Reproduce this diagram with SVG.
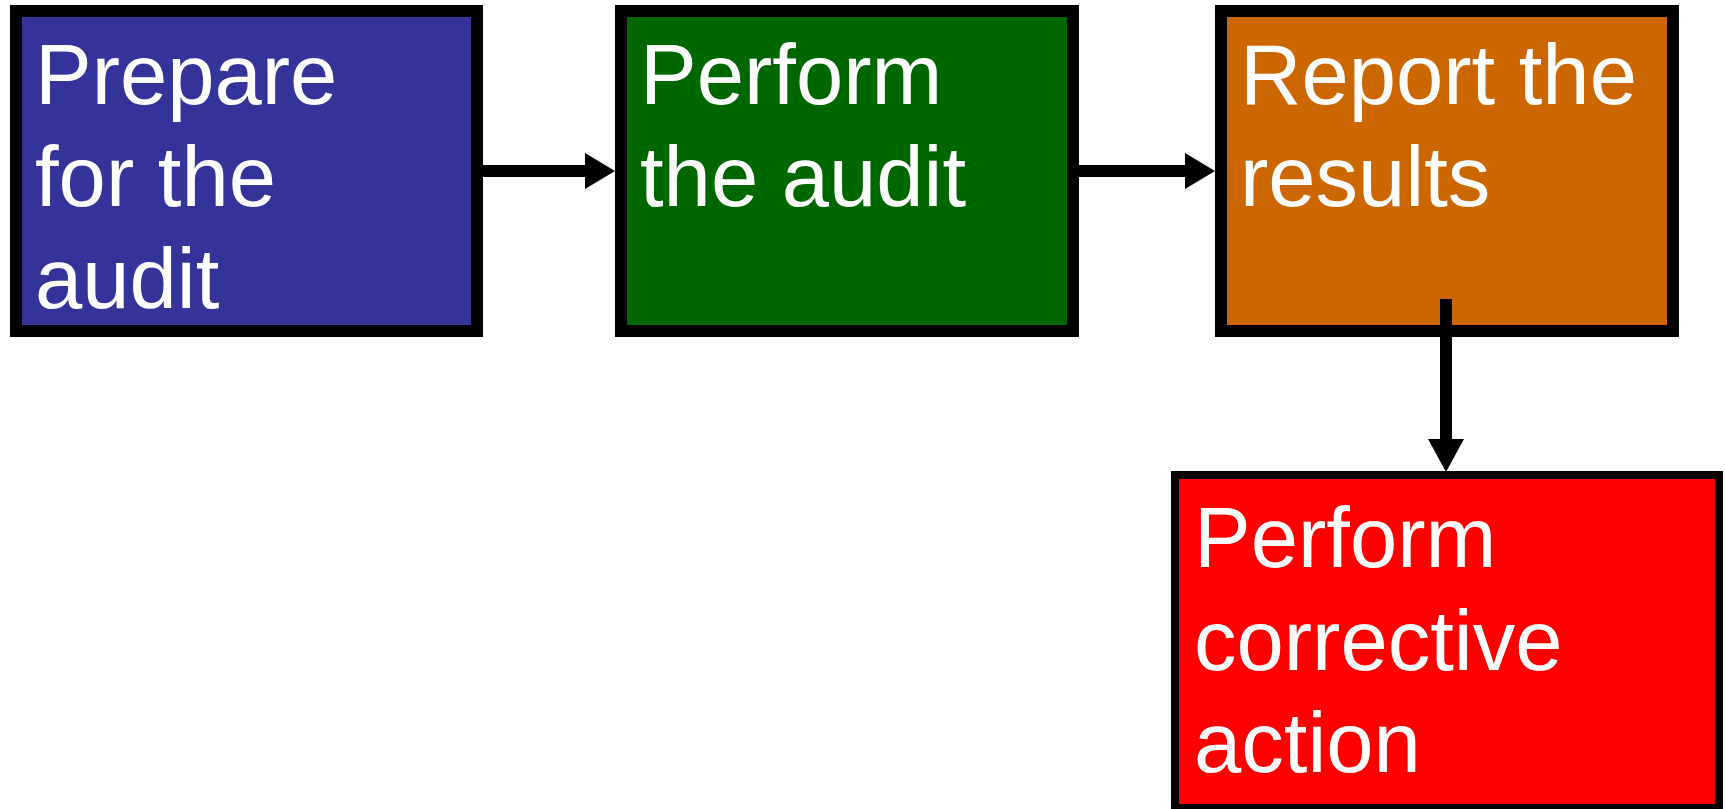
<svg xmlns="http://www.w3.org/2000/svg" width="1725" height="809" viewBox="0 0 1725 809">
<style>
.box{stroke:#000;stroke-width:12}
.lbl{font-family:"Liberation Sans",Arial,sans-serif;font-size:85px;fill:#fff}
.conn{stroke:#000;stroke-width:12;fill:none}
.head{fill:#000}
</style>
<rect width="1725" height="809" fill="#fff"/>
<g id="node-prepare">
<rect class="box" x="16" y="11" width="461" height="320" fill="#333399"/>
<text class="lbl" x="35"><tspan x="35" y="104">Prepare</tspan><tspan x="35" y="206">for the</tspan><tspan x="35" y="308">audit</tspan></text>
</g>
<g id="node-perform">
<rect class="box" x="621" y="11" width="452" height="320" fill="#006600"/>
<text class="lbl"><tspan x="640" y="104">Perform</tspan><tspan x="640" y="206">the audit</tspan></text>
</g>
<g id="node-report">
<rect class="box" x="1221" y="11" width="452" height="320" fill="#CC6600"/>
<text class="lbl"><tspan x="1240" y="104">Report the</tspan><tspan x="1240" y="206">results</tspan></text>
</g>
<g id="node-corrective">
<rect x="1175" y="475" width="544" height="333" fill="#FF0000" stroke="#000" stroke-width="8"/>
<text class="lbl"><tspan x="1194" y="567">Perform</tspan><tspan x="1194" y="670">corrective</tspan><tspan x="1194" y="772">action</tspan></text>
</g>
<g id="connectors">
<line class="conn" x1="483" y1="171" x2="587" y2="171"/>
<polygon class="head" points="585,153 615,171 585,189"/>
<line class="conn" x1="1079" y1="171" x2="1187" y2="171"/>
<polygon class="head" points="1185,153 1215,171 1185,189"/>
<line class="conn" x1="1446" y1="299" x2="1446" y2="441"/>
<polygon class="head" points="1428,439 1446,472 1464,439"/>
</g>
</svg>
